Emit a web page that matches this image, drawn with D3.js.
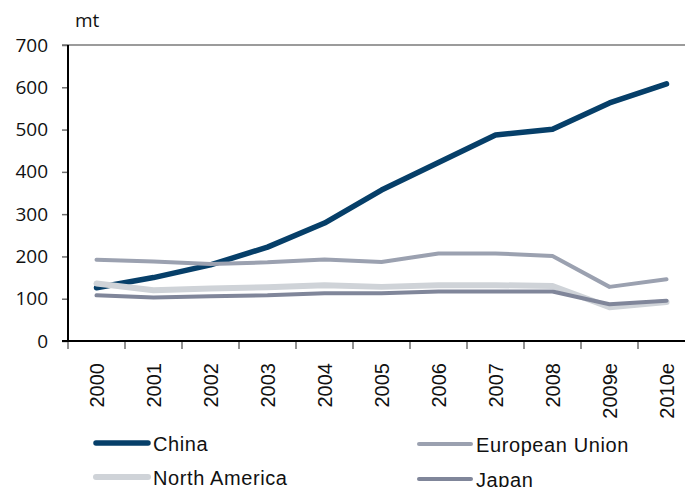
<!DOCTYPE html>
<html>
<head>
<meta charset="utf-8">
<script src="https://cdn.jsdelivr.net/npm/d3@7"></script>
<style>
  html, body { margin: 0; padding: 0; background: #fff; }
  svg { display: block; }
</style>
</head>
<body>
<svg id="chart" width="685" height="487"></svg>
<script>
// Categories and series (million tonnes)
const years = ["2000", "2001", "2002", "2003", "2004", "2005", "2006", "2007", "2008", "2009e", "2010e"];
const china = [126, 150, 180, 222, 279, 357, 422, 487, 501, 563, 608];
const europeanUnion = [192, 188, 182, 186, 193, 187, 207, 207, 201, 128, 146];
const northAmerica = [136, 120, 124, 127, 132, 128, 132, 132, 130, 80, 92];
const japan = [108, 103, 106, 108, 113, 113, 117, 117, 117, 87, 95];
const yTicks = [0, 100, 200, 300, 400, 500, 600, 700];
const unitLabel = "mt";

const series = [
  { name: "China", values: china, color: "#063f69", width: 5.5 },
  { name: "European Union", values: europeanUnion, color: "#9ba1b0", width: 4 },
  { name: "North America", values: northAmerica, color: "#cfd3d8", width: 6 },
  { name: "Japan", values: japan, color: "#80869a", width: 4 }
];

const svg = d3.select("#chart");
const W = 685;
const plotLeft = 68, plotTop = 45, plotBottom = 341, band = 57;

const x = d3.scaleBand().domain(years).range([plotLeft, plotLeft + band * years.length]);
const y = d3.scaleLinear().domain([0, 700]).range([plotBottom, plotTop]);

// Top frame line
svg.append("line")
  .attr("x1", plotLeft - 6).attr("x2", W)
  .attr("y1", y(700)).attr("y2", y(700))
  .attr("stroke", "#7a7a7a").attr("stroke-width", 1.5);

// Y axis
const yAxis = svg.append("g")
  .attr("transform", `translate(${plotLeft},0)`)
  .call(d3.axisLeft(y).tickValues(yTicks).tickSize(6).tickSizeOuter(0).tickPadding(14));
yAxis.select(".domain").remove();
yAxis.selectAll(".tick line").attr("stroke", "#6e6e6e").attr("stroke-width", 1.5);
yAxis.selectAll(".tick text")
  .attr("font-family", "'Open Sans', sans-serif")
  .attr("font-size", 19)
  .attr("fill", "#111");

svg.append("line")
  .attr("x1", plotLeft).attr("x2", plotLeft)
  .attr("y1", y(700)).attr("y2", plotBottom)
  .attr("stroke", "#000").attr("stroke-width", 2);

svg.append("text")
  .attr("x", 75).attr("y", 27)
  .attr("font-family", "'Open Sans', sans-serif")
  .attr("font-size", 19)
  .attr("fill", "#111")
  .text(unitLabel);

// X axis: labels at band centres, tick marks at band boundaries
const xAxis = svg.append("g")
  .attr("transform", `translate(0,${plotBottom})`)
  .call(d3.axisBottom(x).tickSize(0).tickSizeOuter(0));
xAxis.select(".domain").remove();
xAxis.selectAll(".tick text")
  .attr("font-family", "'Liberation Sans', Arial, sans-serif")
  .attr("font-size", 20)
  .attr("fill", "#111")
  .attr("text-anchor", "end")
  .attr("transform", "rotate(-90)")
  .attr("x", -22)
  .attr("y", 0)
  .attr("dy", "0.36em");

svg.append("g").selectAll("line")
  .data(years)
  .join("line")
  .attr("x1", d => x(d)).attr("x2", d => x(d))
  .attr("y1", plotBottom).attr("y2", plotBottom + 8)
  .attr("stroke", "#6e6e6e").attr("stroke-width", 1.5);

svg.append("line")
  .attr("x1", plotLeft - 6).attr("x2", W)
  .attr("y1", plotBottom).attr("y2", plotBottom)
  .attr("stroke", "#000").attr("stroke-width", 2);

// Lines
const line = d3.line()
  .x((d, i) => x(years[i]) + x.bandwidth() / 2)
  .y(d => y(d));

svg.append("g").selectAll("path")
  .data(series)
  .join("path")
  .attr("d", s => line(s.values))
  .attr("fill", "none")
  .attr("stroke", s => s.color)
  .attr("stroke-width", s => s.width)
  .attr("stroke-linecap", "round")
  .attr("stroke-linejoin", "round");

// Legend
const legendPos = [
  { x: 96, y: 443 },
  { x: 419, y: 444 },
  { x: 96, y: 477 },
  { x: 419, y: 479 }
];
const legend = svg.append("g").selectAll("g")
  .data(series)
  .join("g")
  .attr("transform", (s, i) => `translate(${legendPos[i].x},${legendPos[i].y})`);
legend.append("line")
  .attr("x1", 0).attr("x2", 52)
  .attr("stroke", s => s.color)
  .attr("stroke-width", s => s.width)
  .attr("stroke-linecap", "round");
legend.append("text")
  .attr("x", 57).attr("y", 8)
  .attr("font-family", "'Liberation Sans', Arial, sans-serif")
  .attr("font-size", 20)
  .attr("letter-spacing", 0.6)
  .attr("fill", "#111")
  .text(s => s.name);
</script>
</body>
</html>
